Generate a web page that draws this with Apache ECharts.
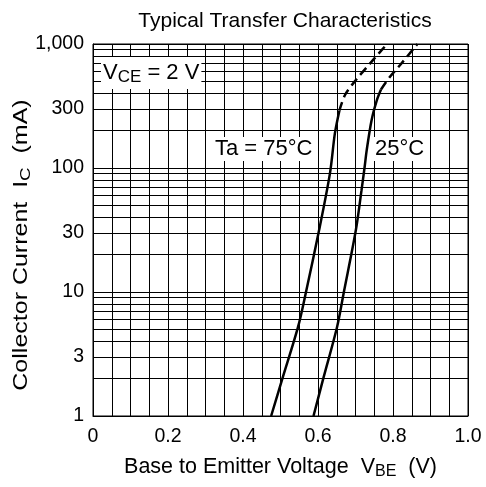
<!DOCTYPE html>
<html><head><meta charset="utf-8">
<script src="https://cdn.jsdelivr.net/npm/echarts@6/dist/echarts.min.js"></script>
<style>html,body{margin:0;padding:0;background:#fff}#c{width:486px;height:487px}</style>
</head><body><div id="c"></div>
<script>
const xTickLabels = [0, 0.2, 0.4, 0.6, 0.8, 1.0];
const yTickLabels = [1, 3, 10, 30, 100, 300, 1000];
const yGridValues = [1,2,3,4,5,6,7,8,9,10,20,30,40,50,60,70,80,90,100,200,300,400,500,600,700,800,900,1000];
// Ta = 75°C
const ta75Solid = [[0.475,1],[0.505,2],[0.547,5.25],[0.568,10],[0.603,31.6],[0.632,91],[0.645,190],[0.657,290]];
const ta75Dash  = [[0.657,290],[0.672,388],[0.701,512],[0.739,698],[0.784,1000]];
// Ta = 25°C
const ta25Solid = [[0.588,1],[0.614,2],[0.651,5.25],[0.669,10],[0.701,31.6],[0.716,66],[0.724,100],[0.730,140],[0.743,244],[0.757,353],[0.768,430]];
const ta25Dash  = [[0.768,430],[0.792,545],[0.819,677],[0.865,1000]];

const FONT = 'Liberation Sans, Arial, Helvetica, sans-serif';
const chart = echarts.init(document.getElementById('c'), null, {renderer: 'canvas'});
const lineSeries = (data, dashed) => ({
  type: 'line', data, symbol: 'none', smooth: 0.3, silent: true,
  lineStyle: {color: '#000', width: 2.5, type: dashed ? [9, 5] : 'solid'},
  z: 5
});
chart.setOption({
  backgroundColor: '#fff',
  animation: false,
  title: {
    text: 'Typical Transfer Characteristics',
    left: 280, top: 6, textAlign: 'center',
    textStyle: {fontFamily: FONT, fontSize: 21, fontWeight: 'normal', color: '#000'}
  },
  grid: {left: 93, right: 18, top: 44, bottom: 71, show: true, borderColor: '#000', borderWidth: 1,
    containLabel: false, outerBoundsMode: 'none'},
  xAxis: {
    type: 'value', min: 0, max: 1, interval: 0.05,
    axisLine: {show: true, lineStyle: {color: '#000', width: 1}},
    axisTick: {show: false},
    splitLine: {show: true, lineStyle: {color: '#000', width: 1}},
    axisLabel: {
      customValues: xTickLabels, fontFamily: FONT, fontSize: 19.5, color: '#000', margin: 11,
      formatter: v => v === 0 ? '0' : v.toFixed(1)
    },
    name: 'Base to Emitter Voltage  V{sub|BE}  (V)',
    nameLocation: 'middle', nameGap: 39,
    nameTextStyle: {fontFamily: FONT, fontSize: 21.5, color: '#000',
      rich: {sub: {fontFamily: FONT, fontSize: 16, color: '#000', padding: [9, 0, 0, 0]}}}
  },
  yAxis: {
    type: 'log', logBase: 10, min: 1, max: 1000,
    axisLine: {show: true, lineStyle: {color: '#000', width: 1}},
    axisTick: {show: false, customValues: yGridValues},
    splitLine: {show: true, lineStyle: {color: '#000', width: 1}},
    axisLabel: {
      customValues: yTickLabels, fontFamily: FONT, fontSize: 19.5, color: '#000', margin: 9,
      formatter: v => Number(v).toLocaleString('en-US')
    }
  },
  graphic: [
    {type: 'text', x: 21, y: 245, rotation: Math.PI / 2, scaleX: 1.25, scaleY: 1, z: 10, style: {
      text: 'Collector Current  I{sub|C}  (mA)', fontFamily: FONT, fontSize: 20, fill: '#000',
      align: 'center', verticalAlign: 'middle',
      rich: {sub: {fontFamily: FONT, fontSize: 15, fill: '#000', padding: [9, 0, 0, 0]}}}},
    {type: 'text', left: 101, top: 57, z: 10, style: {
      text: 'V{sub|CE} = 2 V', fontFamily: FONT, fontSize: 22, fill: '#000',
      backgroundColor: '#fff', padding: [3, 2, 3, 2],
      rich: {sub: {fontFamily: FONT, fontSize: 17, fill: '#000', padding: [9, 0, 0, 0]}}}},
    {type: 'text', left: 213, top: 137, z: 10, style: {
      text: 'Ta = 75°C', fontFamily: FONT, fontSize: 22, fill: '#000',
      backgroundColor: '#fff', padding: [1, 2, 1, 2]}},
    {type: 'text', left: 373, top: 137, z: 10, style: {
      text: '25°C', fontFamily: FONT, fontSize: 22, fill: '#000',
      backgroundColor: '#fff', padding: [1, 2, 1, 2]}}
  ],
  series: [
    lineSeries(ta75Solid, false),
    lineSeries(ta75Dash, true),
    lineSeries(ta25Solid, false),
    lineSeries(ta25Dash, true)
  ]
});
</script></body></html>
